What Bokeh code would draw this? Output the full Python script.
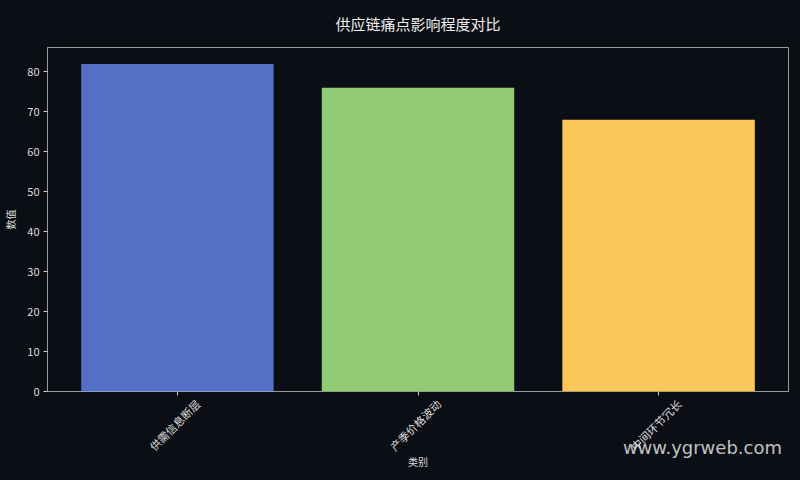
import math
from bokeh.plotting import figure
from bokeh.models import ColumnDataSource, FixedTicker, Range1d, LinearAxis
from bokeh.embed import file_html
from bokeh.resources import INLINE

categories = ["供需信息断层", "产季价格波动", "中间环节冗长"]
values = [82, 76, 68]
colors = ["#5470c6", "#91cc75", "#fac858"]
y_ticks = [0, 10, 20, 30, 40, 50, 60, 70, 80]
watermark = "www.ygrweb.com"

BG = "#0c0e15"
FONT = "Noto Sans CJK SC"
LABEL_SHIFT = 0.085

xs = list(range(len(categories)))
src = ColumnDataSource(dict(x=xs, top=values, color=colors))

p = figure(width=800, height=480, output_backend="svg", toolbar_location=None,
           x_range=Range1d(-0.54, 2.54), y_range=Range1d(0, 86.1),
           x_axis_location=None,
           min_border_left=47, min_border_right=12, min_border_top=47, min_border_bottom=89)
p.extra_x_ranges = {"lab": Range1d(-0.54 - LABEL_SHIFT, 2.54 - LABEL_SHIFT)}
p.background_fill_color = BG
p.border_fill_color = BG
p.outline_line_color = "#9a9a9a"
p.outline_line_width = 1
p.grid.visible = False

p.vbar(x="x", top="top", width=0.8, bottom=0, fill_color="color", line_color=None, source=src)

p.title.text = "供应链痛点影响程度对比"
p.title.align = "center"
p.title.vertical_align = "top"
p.title.text_color = "#eeeeee"
p.title.text_font = FONT
p.title.text_font_size = "15px"
p.title.text_font_style = "normal"
p.title.standoff = 24

# tick marks axis (no labels)
tick_axis = LinearAxis(ticker=FixedTicker(ticks=xs), major_label_text_font_size="0px",
                       major_label_standoff=0, major_tick_out=4, major_tick_in=0,
                       major_tick_line_color="#cccccc", minor_tick_line_color=None,
                       axis_line_color="#9a9a9a")
tick_axis.major_label_overrides = {i: "" for i in xs}
# labels axis (shifted so rotated labels are centred on the ticks)
label_axis = LinearAxis(x_range_name="lab", ticker=FixedTicker(ticks=xs),
                        major_label_overrides={i: c for i, c in enumerate(categories)},
                        major_label_orientation=math.pi / 4,
                        major_tick_out=0, major_tick_in=0, major_tick_line_color=None,
                        minor_tick_line_color=None, axis_line_color=None,
                        major_label_standoff=6,
                        major_label_text_color="#dddddd", major_label_text_font=FONT,
                        major_label_text_font_size="11px",
                        axis_label="类别", axis_label_standoff=-8,
                        axis_label_text_color="#dddddd", axis_label_text_font=FONT,
                        axis_label_text_font_size="10px", axis_label_text_font_style="normal")
p.add_layout(tick_axis, "below")
p.add_layout(label_axis, "below")

ax = p.yaxis[0]
ax.axis_line_color = "#9a9a9a"
ax.major_tick_line_color = "#cccccc"
ax.minor_tick_line_color = None
ax.major_tick_out = 4
ax.major_tick_in = 0
ax.major_label_text_color = "#dddddd"
ax.major_label_text_font = FONT
ax.major_label_text_font_size = "11px"
ax.axis_label_text_color = "#dddddd"
ax.axis_label_text_font = FONT
ax.axis_label_text_font_size = "10px"
ax.axis_label_text_font_style = "normal"
ax.ticker = FixedTicker(ticks=y_ticks)
ax.axis_label = "数值"
ax.axis_label_standoff = 6
ax.major_label_standoff = 4

html = file_html(p, INLINE)
wm_div = ('<div style="position:absolute;left:0;top:435px;width:782px;text-align:right;'
          'font-family:\'DejaVu Sans\';font-size:18px;line-height:26px;'
          'color:rgba(255,255,255,0.75);z-index:10;pointer-events:none;">%s</div>' % watermark)
html = html.replace("<head>", "<head><style>html,body{background:%s;}</style>" % BG, 1)
html = html.replace("</body>", wm_div + "</body>", 1)
open("out.html", "w").write(html)
